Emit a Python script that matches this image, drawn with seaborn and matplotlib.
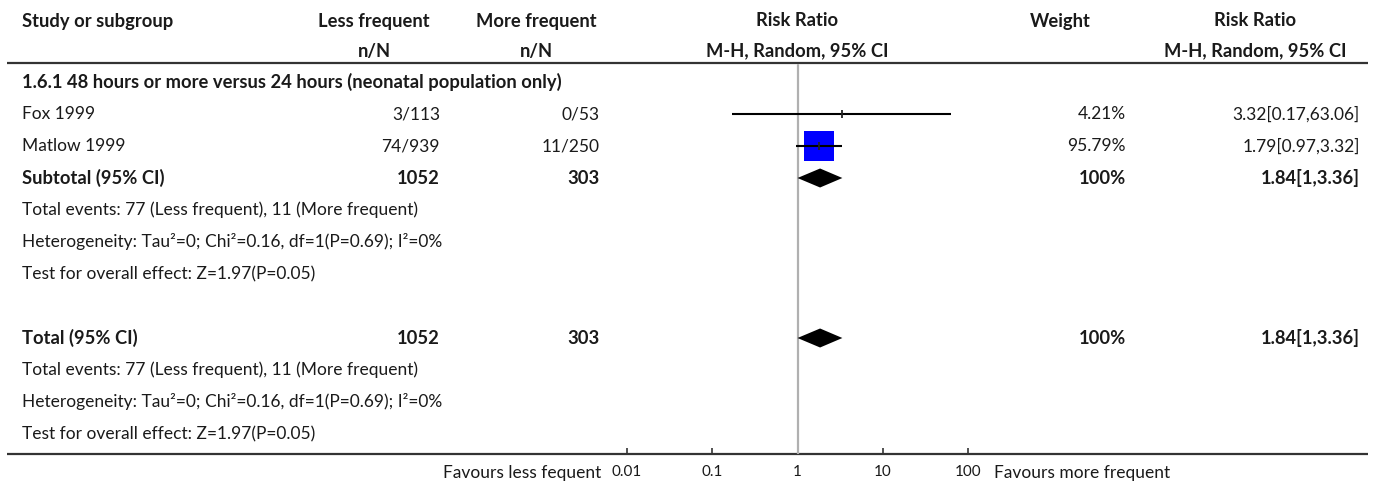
import matplotlib
matplotlib.use("Agg")
import matplotlib.pyplot as plt
import seaborn as sns
import numpy as np
import pandas as pd

# ---------------- data ----------------
studies = ["Fox 1999", "Matlow 1999"]
less_events = [3, 74]
less_total = [113, 939]
more_events = [0, 11]
more_total = [53, 250]
rr = [3.32, 1.79]
rr_low = [0.17, 0.97]
rr_high = [63.06, 3.32]
weights = [4.21, 95.79]

subgroup_title = "1.6.1 48 hours or more versus 24 hours (neonatal population only)"
pooled_rr = 1.84
pooled_low = 1
pooled_high = 3.36
pooled_low_txt = "1"
pooled_less_total = 1052
pooled_more_total = 303
total_events_txt = "Total events: 77 (Less frequent), 11 (More frequent)"
heterogeneity_txt = "Heterogeneity: Tau\u00b2=0; Chi\u00b2=0.16, df=1(P=0.69); I\u00b2=0%"
overall_txt = "Test for overall effect: Z=1.97(P=0.05)"

xticks = [0.01, 0.1, 1, 10, 100]
xtick_labels = ["0.01", "0.1", "1", "10", "100"]
left_label = "Favours less fequent"
right_label = "Favours more frequent"

# ---------------- style ----------------
sns.set_theme(style="white")
plt.rcParams['font.family'] = ['Lato', 'DejaVu Sans']
TXT = '#1a1a1a'
FS = 12.5
FSB = 13.2

W, H = 1375, 484
fig = plt.figure(figsize=(W / 100, H / 100), dpi=100)

# text / table layer in pixel coordinates
tab = fig.add_axes([0, 0, 1, 1])
tab.set_xlim(0, W)
tab.set_ylim(H, 0)
tab.axis('off')

ROW0, DY = 82, 32
def ry(r):
    return ROW0 + DY * r

def t(x, y, s, ha='left', bold=False, size=None, color=TXT):
    if size is None:
        size = FSB if bold else FS
    tab.text(x, y, s, ha=ha, va='center', fontsize=size,
             fontweight='bold' if bold else 'normal', color=color)

# header
H1, H2 = 21, 51
X_NAME = 22
C_LESS, R_LESS = 374, 440
C_MORE, R_MORE = 536, 600
C_FOREST = 797
C_W, R_W = 1060, 1126
C_RR, R_RR = 1255, 1360

t(X_NAME, H1, "Study or subgroup", bold=True)
t(C_LESS, H1, "Less frequent", ha='center', bold=True)
t(C_LESS, H2, "n/N", ha='center', bold=True)
t(C_MORE, H1, "More frequent", ha='center', bold=True)
t(C_MORE, H2, "n/N", ha='center', bold=True)
t(C_FOREST, H1, "Risk Ratio", ha='center', bold=True)
t(C_FOREST, H2, "M-H, Random, 95% CI", ha='center', bold=True)
t(C_W, H1, "Weight", ha='center', bold=True)
t(C_RR, H1, "Risk Ratio", ha='center', bold=True)
t(C_RR, H2, "M-H, Random, 95% CI", ha='center', bold=True)

tab.plot([7, 1368], [63, 63], color='#333333', lw=1.6, solid_capstyle='butt')
tab.plot([7, 1368], [454, 454], color='#333333', lw=1.6, solid_capstyle='butt')

# subgroup
t(X_NAME, ry(0), subgroup_title, bold=True)
for i, name in enumerate(studies):
    r = 1 + i
    t(X_NAME, ry(r), name)
    t(R_LESS, ry(r), f"{less_events[i]}/{less_total[i]}", ha='right')
    t(R_MORE, ry(r), f"{more_events[i]}/{more_total[i]}", ha='right')
    t(R_W, ry(r), f"{weights[i]:.2f}%", ha='right')
    t(R_RR, ry(r), f"{rr[i]:.2f}[{rr_low[i]:.2f},{rr_high[i]:.2f}]", ha='right')

pooled_txt = f"{pooled_rr:.2f}[{pooled_low_txt},{pooled_high:.2f}]"
for base, label in [(3, "Subtotal (95% CI)"), (8, "Total (95% CI)")]:
    t(X_NAME, ry(base), label, bold=True)
    t(R_LESS, ry(base), str(pooled_less_total), ha='right', bold=True)
    t(R_MORE, ry(base), str(pooled_more_total), ha='right', bold=True)
    t(R_W, ry(base), "100%", ha='right', bold=True)
    t(R_RR, ry(base), pooled_txt, ha='right', bold=True)
    t(X_NAME, ry(base + 1), total_events_txt)
    t(X_NAME, ry(base + 2), heterogeneity_txt)
    t(X_NAME, ry(base + 3), overall_txt)

t(601, 473, left_label, ha='right')
t(994, 473, right_label, ha='left')

# ---------------- forest axes ----------------
FX0, FX1 = 627, 968
FY_TOP, FY_BOT = 63, 454
fa = fig.add_axes([FX0 / W, (H - FY_BOT) / H, (FX1 - FX0) / W, (FY_BOT - FY_TOP) / H])
fa.patch.set_alpha(0)
fa.set_xscale('log')
fa.set_xlim(0.01, 100)
fa.set_ylim((FY_BOT - ROW0) / DY, (FY_TOP - ROW0) / DY)
for side in ['top', 'left', 'right', 'bottom']:
    fa.spines[side].set_visible(False)
fa.set_yticks([])
fa.set_xticks(xticks)
fa.set_xticklabels(xtick_labels)
fa.minorticks_off()
fa.tick_params(axis='x', direction='in', length=4, width=1.2, color='#333333',
               pad=8, labelsize=11, labelcolor=TXT, bottom=True)

# centre line
fa.axvline(1, ymin=0, ymax=(FY_BOT - 65) / (FY_BOT - FY_TOP), color='#b0b0b0', lw=1.6, zorder=1)

df = pd.DataFrame({"study": studies, "rr": rr, "lo": rr_low, "hi": rr_high,
                   "w": weights, "row": [1 + i for i in range(len(studies))]})

sns.scatterplot(data=df, x="rr", y="row", size="w", sizes=(3, 467), marker='s',
                color='#0000ff', linewidth=0, legend=False, ax=fa, zorder=2)
fa.hlines(df["row"], df["lo"], df["hi"], color='black', lw=1.5, zorder=3)
fa.scatter(df["rr"], df["row"], marker='|', s=40, color='#222222', linewidths=1.3, zorder=4)

h = 9.5 / DY
for base in [3, 8]:
    fa.fill([pooled_low, pooled_rr, pooled_high, pooled_rr],
            [base, base - h, base, base + h], color='black', lw=0, zorder=3)

fa.set_xlabel('')
fa.set_ylabel('')

fig.savefig("out.png", dpi=100)
